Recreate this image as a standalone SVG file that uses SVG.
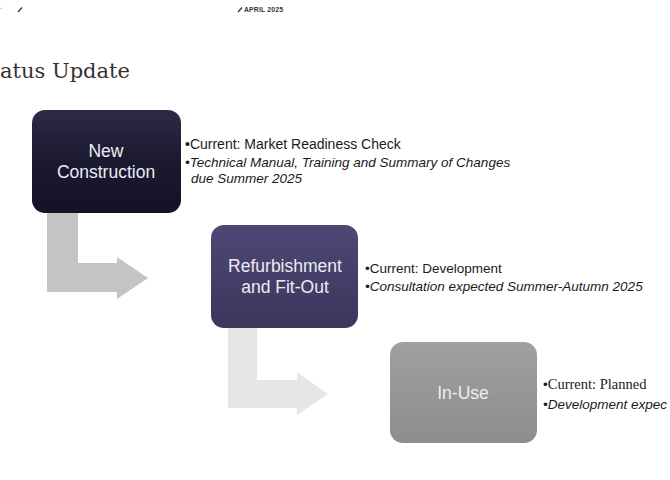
<svg xmlns="http://www.w3.org/2000/svg" width="670" height="480" viewBox="0 0 670 480">
<defs>
<linearGradient id="g1" x1="0" y1="0" x2="0" y2="1"><stop offset="0" stop-color="#2c2a46"/><stop offset="0.5" stop-color="#1b1930"/><stop offset="1" stop-color="#141226"/></linearGradient>
<linearGradient id="g2" x1="0" y1="0" x2="0" y2="1"><stop offset="0" stop-color="#4d4874"/><stop offset="1" stop-color="#3c365d"/></linearGradient>
<linearGradient id="g3" x1="0" y1="0" x2="0" y2="1"><stop offset="0" stop-color="#a0a0a0"/><stop offset="1" stop-color="#8d8d8d"/></linearGradient>
</defs>
<style>
.bx{font-family:"Liberation Sans",Arial,sans-serif;font-size:17.5px;fill:#ececf2;text-anchor:middle}
.t{font-family:"Liberation Sans",Arial,sans-serif;font-size:13.5px;fill:#1a1a1a}
.i{font-style:italic}
.sf{font-family:"Liberation Serif","Times New Roman",serif}
</style>
<rect width="670" height="480" fill="#ffffff"/>
<g id="header">
<line x1="0" y1="9" x2="2" y2="8" stroke="#bbb" stroke-width="1"/>
<line x1="18" y1="12" x2="22" y2="7.5" stroke="#333" stroke-width="1.3"/>
<line x1="238" y1="12" x2="242" y2="7.5" stroke="#333" stroke-width="1.3"/>
<text x="244" y="12" font-family="'Liberation Sans',Arial,sans-serif" font-weight="bold" font-size="6.8" fill="#333" letter-spacing="0.2">APRIL 2025</text>
<text x="0" y="78" font-family="'DejaVu Serif',serif" font-size="21" fill="#333">atus Update</text>
</g>
<g id="connectors">
<polygon points="47,212 78,212 78,263 117,263 117,257 148,278 117,299 117,292 47,292" fill="#c4c4c4"/>
<polygon points="228,328 257,328 257,380 297,380 297,372 328,394 297,415 297,408 228,408" fill="#e6e6e6"/>
</g>
<g id="node-new-construction">
<rect x="32" y="110" width="149" height="103" rx="13" fill="url(#g1)"/>
<text class="bx" x="106" y="157">New</text>
<text class="bx" x="106" y="178">Construction</text>
<text class="t" x="185" y="149" font-size="14" style="font-size:14px">•Current: Market Readiness Check</text>
<text class="t i" x="185" y="167">•Technical Manual, Training and Summary of Changes</text>
<text class="t i" x="191" y="183">due Summer 2025</text>
</g>
<g id="node-refurbishment">
<rect x="211" y="225" width="147" height="103" rx="13" fill="url(#g2)"/>
<text class="bx" x="285" y="272">Refurbishment</text>
<text class="bx" x="285" y="293">and Fit-Out</text>
<text class="t" x="365" y="273">•Current: Development</text>
<text class="t i" x="365" y="291">•Consultation expected Summer-Autumn 2025</text>
</g>
<g id="node-in-use">
<rect x="390" y="342" width="147" height="101" rx="13" fill="url(#g3)"/>
<text class="bx" x="463" y="399" style="fill:#eeeeee">In-Use</text>
<text class="t" x="543" y="389"><tspan>•</tspan><tspan class="sf" font-size="14.5">Current: Planned</tspan></text>
<text class="t i" x="543" y="409">•Development expec</text>
</g>
</svg>
